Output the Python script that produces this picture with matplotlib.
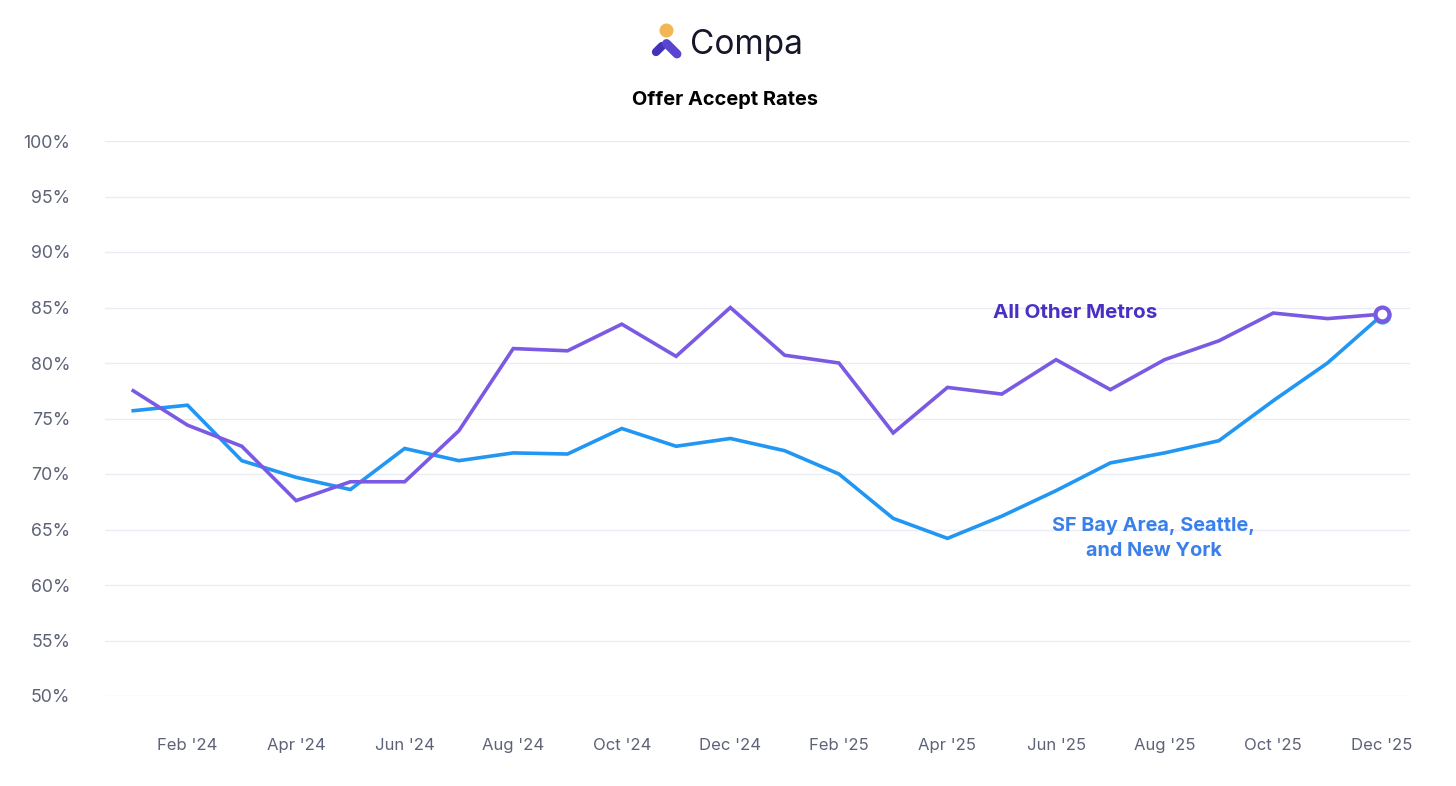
import matplotlib.pyplot as plt
from matplotlib.patches import Circle

plt.rcParams["font.family"] = ["Inter", "DejaVu Sans"]

# monthly data, Jan '24 .. Dec '25
months = ["Jan '24", "Feb '24", "Mar '24", "Apr '24", "May '24", "Jun '24",
          "Jul '24", "Aug '24", "Sep '24", "Oct '24", "Nov '24", "Dec '24",
          "Jan '25", "Feb '25", "Mar '25", "Apr '25", "May '25", "Jun '25",
          "Jul '25", "Aug '25", "Sep '25", "Oct '25", "Nov '25", "Dec '25"]
other_metros = [77.5, 74.4, 72.5, 67.6, 69.3, 69.3, 73.9, 81.3, 81.1, 83.5, 80.6, 85.0,
                80.7, 80.0, 73.7, 77.8, 77.2, 80.3, 77.6, 80.3, 82.0, 84.5, 84.0, 84.4]
sf_sea_ny = [75.7, 76.2, 71.2, 69.7, 68.6, 72.3, 71.2, 71.9, 71.8, 74.1, 72.5, 73.2,
             72.1, 70.0, 66.0, 64.2, 66.2, 68.5, 71.0, 71.9, 73.0, 76.6, 80.0, 84.3]
yticks = [50, 55, 60, 65, 70, 75, 80, 85, 90, 95, 100]

purple = "#7a5ae3"
blue = "#2196f3"
grey = "#5d6277"

fig = plt.figure(figsize=(14.56, 7.86), dpi=100)
ax = fig.add_axes([105/1456, 1-696/786, 1305/1456, 555/786])

x = range(len(months))
ax.plot(x, sf_sea_ny, color=blue, lw=2.6, solid_joinstyle="miter", zorder=3)
ax.plot(x, other_metros, color=purple, lw=2.6, solid_joinstyle="miter", zorder=4)
ax.plot([x[-1]], [sf_sea_ny[-1]], "o", ms=10, mfc="white", mec=blue, mew=3, zorder=5)
ax.plot([x[-1]], [other_metros[-1]], "o", ms=10, mfc="white", mec=purple, mew=3, zorder=6)

ax.set_xlim(-0.52, 23.52)
ax.set_ylim(50, 100)
ax.set_yticks(yticks)
ax.set_yticklabels([f"{v}%" for v in yticks])
ax.set_xticks(x[1::2])
ax.set_xticklabels(months[1::2])
ax.grid(axis="y", color="#ebebf4", lw=1)
ax.set_axisbelow(True)
for s in ax.spines.values():
    s.set_visible(False)
ax.tick_params(axis="both", length=0, labelcolor=grey)
ax.tick_params(axis="y", pad=25, labelsize=12.8)
ax.tick_params(axis="x", pad=30, labelsize=12)

ax.text(17.35, 84.5, "All Other Metros", color="#4a2fc4", fontsize=14.8,
        fontweight="bold", ha="center", va="center")
ax.text(18.8, 64.2, "SF Bay Area, Seattle,\nand New York", color="#3a80ea",
        fontsize=14.3, fontweight="bold", ha="center", va="center", linespacing=1.45)

# header: logo + title
fig.text(690/1456, 1-45/786, "Compa", fontsize=24, color="#16162a",
         ha="left", va="center")
fig.text(725/1456, 1-100/786, "Offer Accept Rates", fontsize=14.4,
         fontweight="bold", color="black", ha="center", va="center")
W, H = 1456, 786
logo = fig.add_axes([0, 0, 1, 1], zorder=10)
logo.set_xlim(0, W)
logo.set_ylim(H, 0)
logo.axis("off")
logo.add_patch(Circle((666.5, 30.5), 6.3, color="#f2b755"))
logo.plot([656, 662], [52, 46], color="#4433b8", lw=6, solid_capstyle="round")
logo.plot([666.5, 677], [43.5, 54], color="#5a44d2", lw=6.4, solid_capstyle="round")

fig.savefig("out.png", dpi=100)
